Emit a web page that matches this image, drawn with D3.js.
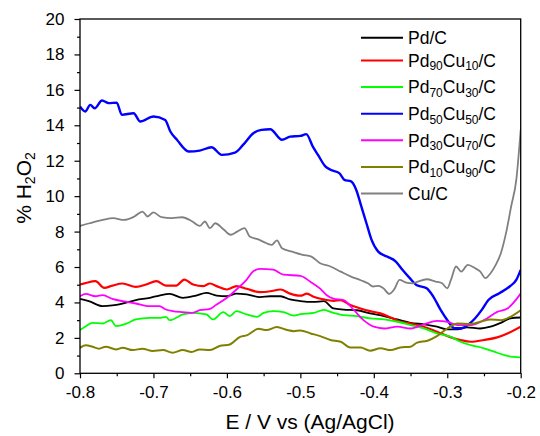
<!DOCTYPE html>
<html>
<head>
<meta charset="utf-8">
<script src="https://cdn.jsdelivr.net/npm/d3@7"></script>
<style>
  body { margin: 0; background: #fff; }
  text { font-family: "Liberation Sans", Arial, sans-serif; }
</style>
</head>
<body>
<div id="chart"></div>
<script>
// data: [E (V), % H2O2]
const pdC = [[-0.8,4.2],[-0.788,4.07],[-0.769,3.79],[-0.756,3.83],[-0.742,3.94],[-0.724,4.13],[-0.705,4.26],[-0.692,4.39],[-0.678,4.48],[-0.66,4.26],[-0.642,4.39],[-0.628,4.54],[-0.614,4.39],[-0.6,4.35],[-0.587,4.5],[-0.573,4.45],[-0.555,4.3],[-0.541,4.35],[-0.527,4.35],[-0.514,4.17],[-0.5,4.08],[-0.482,4.03],[-0.468,4.07],[-0.455,3.66],[-0.441,3.6],[-0.423,3.56],[-0.405,3.38],[-0.386,3.23],[-0.368,3.04],[-0.35,2.85],[-0.332,2.76],[-0.314,2.63],[-0.3,2.48],[-0.286,2.48],[-0.273,2.59],[-0.255,2.53],[-0.241,2.63],[-0.227,2.85],[-0.214,3.1],[-0.2,3.15]];
const pd90 = [[-0.8,5.01],[-0.792,5.1],[-0.779,5.2],[-0.767,4.82],[-0.756,4.95],[-0.742,5.07],[-0.724,4.88],[-0.71,5.01],[-0.696,5.2],[-0.683,4.95],[-0.669,4.95],[-0.658,5.29],[-0.646,5.01],[-0.632,4.92],[-0.623,5.07],[-0.614,4.92],[-0.6,4.73],[-0.587,4.92],[-0.573,4.77],[-0.555,4.58],[-0.541,4.63],[-0.527,4.73],[-0.514,4.5],[-0.5,4.38],[-0.491,4.5],[-0.482,4.32],[-0.468,4.17],[-0.455,4.09],[-0.445,4.13],[-0.432,3.85],[-0.418,3.66],[-0.405,3.51],[-0.391,3.38],[-0.377,3.15],[-0.364,2.91],[-0.35,2.81],[-0.332,2.63],[-0.314,2.35],[-0.295,2.03],[-0.282,1.88],[-0.268,1.78],[-0.25,1.88],[-0.232,2.03],[-0.218,2.25],[-0.2,2.63]];
const pd70 = [[-0.8,2.44],[-0.792,2.66],[-0.783,2.85],[-0.769,2.81],[-0.758,3.0],[-0.751,2.66],[-0.737,2.8],[-0.724,3.04],[-0.705,3.13],[-0.692,3.13],[-0.683,3.19],[-0.678,3.0],[-0.66,3.32],[-0.646,3.41],[-0.628,3.32],[-0.619,3.04],[-0.605,3.45],[-0.596,3.23],[-0.587,3.51],[-0.573,3.32],[-0.559,3.19],[-0.55,3.41],[-0.537,3.51],[-0.523,3.45],[-0.509,3.26],[-0.5,3.34],[-0.482,3.41],[-0.468,3.58],[-0.455,3.41],[-0.441,3.28],[-0.423,3.23],[-0.405,3.1],[-0.386,3.04],[-0.368,2.91],[-0.35,2.72],[-0.332,2.53],[-0.314,2.25],[-0.295,2.06],[-0.282,1.78],[-0.268,1.59],[-0.25,1.41],[-0.232,1.16],[-0.218,0.98],[-0.2,0.9]];
const pd50 = [[-0.8,15.06],[-0.793,14.78],[-0.786,15.15],[-0.78,14.96],[-0.77,15.4],[-0.761,15.25],[-0.75,15.28],[-0.743,14.59],[-0.727,14.68],[-0.718,14.21],[-0.7,14.5],[-0.684,14.3],[-0.677,13.65],[-0.668,13.18],[-0.652,12.52],[-0.637,12.57],[-0.621,12.76],[-0.607,12.33],[-0.589,12.46],[-0.578,12.89],[-0.564,13.55],[-0.553,13.74],[-0.541,13.78],[-0.525,13.18],[-0.514,13.36],[-0.5,13.4],[-0.492,13.5],[-0.483,12.8],[-0.476,12.33],[-0.466,11.68],[-0.459,11.49],[-0.447,11.3],[-0.44,10.92],[-0.431,10.83],[-0.424,10.36],[-0.417,9.42],[-0.41,8.47],[-0.403,7.53],[-0.394,6.87],[-0.382,6.59],[-0.37,6.31],[-0.361,5.84],[-0.351,5.37],[-0.342,4.99],[-0.328,4.8],[-0.319,4.33],[-0.309,3.58],[-0.3,3.01],[-0.29,2.54],[-0.281,2.54],[-0.272,2.73],[-0.262,3.11],[-0.253,3.58],[-0.244,4.14],[-0.229,4.52],[-0.215,4.9],[-0.206,5.27],[-0.2,5.84]];
const pd30 = [[-0.8,4.35],[-0.792,4.48],[-0.779,4.35],[-0.769,4.41],[-0.756,4.2],[-0.742,4.07],[-0.724,3.94],[-0.705,3.79],[-0.692,3.79],[-0.683,3.6],[-0.674,3.51],[-0.66,3.45],[-0.648,3.41],[-0.637,3.56],[-0.623,3.64],[-0.614,3.88],[-0.6,4.26],[-0.587,4.73],[-0.573,5.29],[-0.564,5.76],[-0.555,5.89],[-0.537,5.85],[-0.523,5.57],[-0.5,5.5],[-0.486,5.16],[-0.473,4.78],[-0.464,4.41],[-0.455,4.22],[-0.441,4.13],[-0.427,3.56],[-0.414,3.0],[-0.4,2.63],[-0.386,2.53],[-0.368,2.63],[-0.35,2.53],[-0.332,2.76],[-0.314,2.96],[-0.3,2.91],[-0.286,2.72],[-0.268,2.72],[-0.25,3.0],[-0.232,3.47],[-0.218,3.66],[-0.2,4.5]];
const pd10 = [[-0.8,1.44],[-0.792,1.58],[-0.783,1.5],[-0.774,1.39],[-0.765,1.5],[-0.751,1.35],[-0.742,1.44],[-0.728,1.31],[-0.715,1.39],[-0.701,1.26],[-0.687,1.31],[-0.674,1.16],[-0.66,1.31],[-0.648,1.2],[-0.637,1.35],[-0.623,1.31],[-0.61,1.54],[-0.596,1.63],[-0.582,2.06],[-0.573,2.14],[-0.557,2.51],[-0.546,2.44],[-0.532,2.61],[-0.518,2.44],[-0.509,2.38],[-0.5,2.42],[-0.486,2.25],[-0.473,2.1],[-0.459,1.88],[-0.445,1.78],[-0.432,1.46],[-0.418,1.46],[-0.405,1.28],[-0.391,1.41],[-0.377,1.31],[-0.364,1.46],[-0.35,1.5],[-0.341,1.73],[-0.327,1.84],[-0.314,2.1],[-0.3,2.53],[-0.286,2.81],[-0.268,2.78],[-0.255,2.91],[-0.241,3.04],[-0.227,3.0],[-0.214,3.19],[-0.2,3.56]];
const cuC = [[-0.8,8.32],[-0.787,8.47],[-0.769,8.66],[-0.755,8.76],[-0.74,8.66],[-0.726,8.85],[-0.715,9.13],[-0.708,8.85],[-0.7,9.08],[-0.689,8.81],[-0.675,8.76],[-0.661,8.81],[-0.647,8.57],[-0.637,8.32],[-0.63,8.57],[-0.623,8.19],[-0.616,8.47],[-0.604,8.1],[-0.595,7.82],[-0.586,8.0],[-0.576,8.19],[-0.569,7.72],[-0.558,7.57],[-0.546,7.34],[-0.539,7.25],[-0.532,7.5],[-0.525,7.06],[-0.511,6.87],[-0.497,6.69],[-0.485,6.59],[-0.473,6.21],[-0.459,6.03],[-0.445,5.74],[-0.431,5.46],[-0.417,5.24],[-0.408,5.08],[-0.401,4.9],[-0.394,4.93],[-0.387,4.8],[-0.379,4.48],[-0.372,4.75],[-0.365,5.27],[-0.356,5.12],[-0.347,5.08],[-0.34,5.18],[-0.328,5.31],[-0.316,5.18],[-0.307,5.08],[-0.3,4.8],[-0.295,5.27],[-0.288,6.03],[-0.281,5.74],[-0.272,6.12],[-0.262,5.93],[-0.255,5.74],[-0.248,5.37],[-0.241,5.65],[-0.234,6.12],[-0.227,6.78],[-0.22,7.91],[-0.213,9.42],[-0.206,10.92],[-0.2,13.75]];

const seriesNames = ["Pd/C", "Pd90Cu10/C", "Pd70Cu30/C", "Pd50Cu50/C", "Pd30Cu70/C", "Pd10Cu90/C", "Cu/C"];
const seriesData = [pdC, pd90, pd70, pd50, pd30, pd10, cuC];
const colors = ["#000000", "#ff0000", "#00ff00", "#0000ff", "#ff00ff", "#808000", "#808080"];
const widths = [1.8, 2.2, 1.8, 2.4, 1.8, 2.0, 1.8];

const xMajor = [-0.8, -0.7, -0.6, -0.5, -0.4, -0.3, -0.2];
const xMinor = [-0.75, -0.65, -0.55, -0.45, -0.35, -0.25];
const yMajor = [0, 2, 4, 6, 8, 10, 12, 14, 16, 18, 20];
const yMinor = [1, 3, 5, 7, 9, 11, 13, 15, 17, 19];

// size
const W = 540, H = 436;
const plotL = 80, plotR = 520.7, plotT = 19, plotB = 373.3;

const svg = d3.select("#chart").append("svg")
    .attr("width", W)
    .attr("height", H);

svg.append("rect").attr("width", W).attr("height", H).attr("fill", "#fff");

const x = d3.scaleLinear().domain([-0.8, -0.2]).range([plotL, plotR]);
const y = d3.scaleLinear().domain([0, 20]).range([plotB, plotT]);

svg.append("clipPath").attr("id", "clip")
  .append("rect")
    .attr("x", plotL).attr("y", plotT)
    .attr("width", plotR - plotL).attr("height", plotB - plotT);

// axes
const fmt = d => d.toFixed(1);
svg.append("g").attr("transform", `translate(0,${plotB})`)
    .call(d3.axisBottom(x).tickValues(xMajor).tickFormat(fmt).tickSize(5).tickPadding(8));
svg.append("g").attr("transform", `translate(0,${plotB})`)
    .call(d3.axisBottom(x).tickValues(xMinor).tickFormat("").tickSize(3));
svg.append("g").attr("transform", `translate(${plotL},0)`)
    .call(d3.axisLeft(y).tickValues(yMajor).tickSize(5.5).tickPadding(10));
svg.append("g").attr("transform", `translate(${plotL},0)`)
    .call(d3.axisLeft(y).tickValues(yMinor).tickFormat("").tickSize(3));

svg.selectAll(".domain").remove();
svg.selectAll(".tick line").attr("stroke", "#000").attr("stroke-width", 1.2);
svg.selectAll(".tick text").attr("font-size", 17).attr("fill", "#000")
    .attr("font-family", "'Liberation Sans', Arial, sans-serif");

// lines
const line = d3.line()
    .x(d => x(d[0]))
    .y(d => y(d[1]))
    .curve(d3.curveMonotoneX);

svg.append("g").attr("clip-path", "url(#clip)")
  .selectAll("path")
  .data(seriesData)
  .join("path")
    .attr("fill", "none")
    .attr("stroke", (d, i) => colors[i])
    .attr("stroke-width", (d, i) => widths[i])
    .attr("stroke-linejoin", "round")
    .attr("d", line);

// frame
svg.append("rect")
    .attr("x", plotL).attr("y", plotT)
    .attr("width", plotR - plotL).attr("height", plotB - plotT)
    .attr("fill", "none")
    .attr("stroke", "#000")
    .attr("stroke-width", 1.3);

// text with subscripts for digit runs
function subText(sel, str, size, subSize, shift) {
  const parts = str.split(/(\d+)/).filter(p => p.length);
  let down = false;
  parts.forEach(p => {
    const isSub = /^\d+$/.test(p);
    const t = sel.append("tspan").text(p).attr("font-size", isSub ? subSize : size);
    if (isSub && !down) { t.attr("dy", shift); down = true; }
    else if (!isSub && down) { t.attr("dy", -shift); down = false; }
  });
}

// legend
const legend = svg.append("g");
seriesNames.forEach((name, i) => {
  const ly = i === 0 ? 37.7 : 60.5 + (i - 1) * 26.6;
  legend.append("line")
      .attr("x1", 361).attr("x2", 403)
      .attr("y1", ly).attr("y2", ly)
      .attr("stroke", colors[i])
      .attr("stroke-width", 2);
  const t = legend.append("text")
      .attr("x", 408).attr("y", ly + 6.3)
      .attr("fill", "#000");
  subText(t, name, 17.5, 12, 3.5);
});

// axis titles
svg.append("text")
    .attr("x", 310).attr("y", 429)
    .attr("text-anchor", "middle")
    .attr("font-size", 21)
    .text("E / V vs (Ag/AgCl)");

const yt = svg.append("text")
    .attr("transform", "translate(31,188) rotate(-90)")
    .attr("text-anchor", "middle");
subText(yt, "% H2O2", 21, 14, 4);
</script>
</body>
</html>
